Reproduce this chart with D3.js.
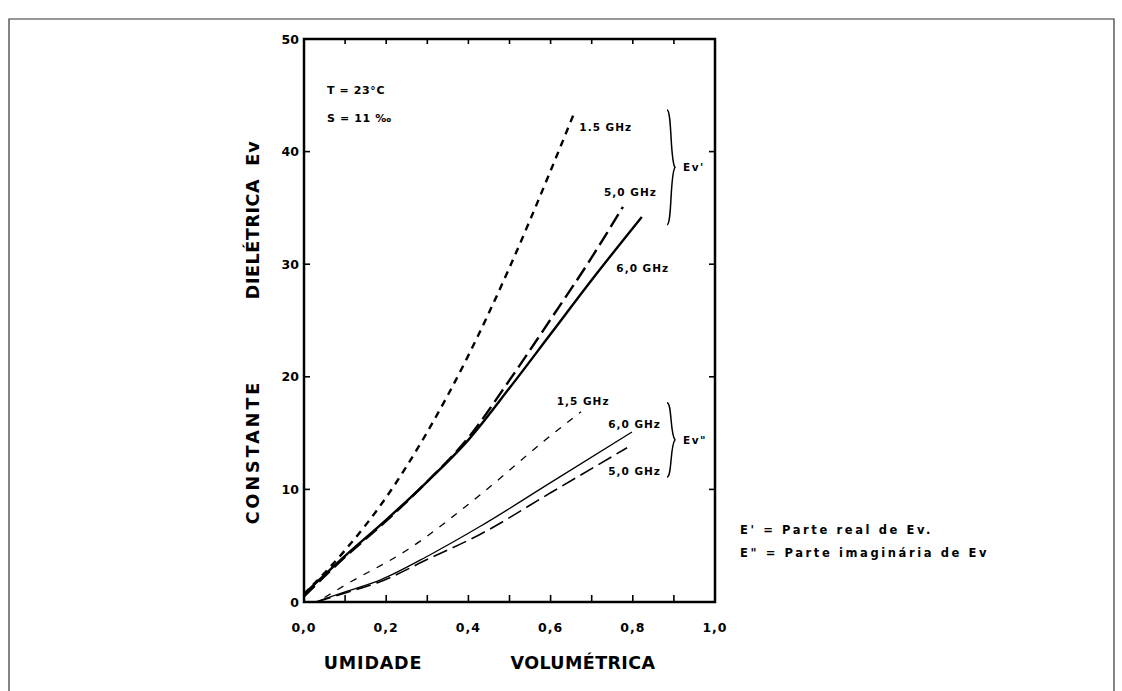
<!DOCTYPE html>
<meta charset="utf-8">
<style>
body { margin: 0; background: #fff; }
svg text { font-family: "DejaVu Sans", sans-serif; font-weight: bold; fill: #000; }
.frame { fill: none; stroke: #000; stroke-width: 2.5px; }
.tick { stroke: #000; stroke-width: 1.6px; }
.curve { fill: none; stroke: #000; }
.page { fill: none; stroke: #333; stroke-width: 1.2px; }
</style>
<body>
<div id="chart"></div>
<script src="https://d3js.org/d3.v7.min.js"></script>
<script>

// values: [volumetric moisture, dielectric constant]
var evReal15 = [[0, 0.7], [0.1, 4.6], [0.2, 9.3], [0.3, 15.1], [0.4, 21.9], [0.5, 29.7], [0.6, 38.3], [0.657, 43.4]];
var evReal50 = [[0, 0.5], [0.1, 4.0], [0.2, 7.2], [0.3, 10.7], [0.4, 14.6], [0.5, 19.7], [0.6, 25.1], [0.7, 30.6], [0.776, 35.1]];
var evReal60 = [[0, 0.7], [0.1, 4.1], [0.2, 7.3], [0.3, 10.7], [0.4, 14.4], [0.5, 19.0], [0.6, 23.8], [0.7, 28.6], [0.822, 34.2]];
var evImag15 = [[0.05, 0.4], [0.1, 1.5], [0.25, 4.6], [0.428, 9.5], [0.584, 14.3], [0.674, 16.9]];
var evImag50 = [[0.03, 0], [0.1, 0.8], [0.185, 1.8], [0.307, 3.9], [0.428, 6.0], [0.6, 9.7], [0.786, 13.7]];
var evImag60 = [[0.027, 0], [0.1, 0.9], [0.185, 1.95], [0.307, 4.2], [0.428, 6.7], [0.6, 10.6], [0.798, 15.1]];

var xTicks = [0, 0.1, 0.2, 0.3, 0.4, 0.5, 0.6, 0.7, 0.8, 0.9, 1.0];
var xLabels = ["0,0", "0,2", "0,4", "0,6", "0,8", "1,0"];
var yTicks = [0, 10, 20, 30, 40, 50];

var curveLabels = [
    {text: "1.5 GHz", x: 0.67, y: 42.2},
    {text: "5,0 GHz", x: 0.73, y: 36.4},
    {text: "6,0 GHz", x: 0.76, y: 29.6},
    {text: "1,5 GHz", x: 0.615, y: 17.8},
    {text: "6,0 GHz", x: 0.74, y: 15.8},
    {text: "5,0 GHz", x: 0.74, y: 11.6}
];

var width = 1122, height = 691;
var plot = {left: 304, right: 715, top: 39, bottom: 602};

var svg = d3.select("#chart").append("svg")
    .attr("width", width)
    .attr("height", height);

// page border (scanned sheet)
svg.append("path")
    .attr("class", "page")
    .attr("d", "M9," + height + "V19H1114V" + height);

var x = d3.scaleLinear()
    .domain([0, 1])
    .range([plot.left, plot.right]);

var y = d3.scaleLinear()
    .domain([0, 50])
    .range([plot.bottom, plot.top]);

svg.append("rect")
    .attr("class", "frame")
    .attr("x", plot.left)
    .attr("y", plot.top)
    .attr("width", plot.right - plot.left)
    .attr("height", plot.bottom - plot.top);

// inward ticks on all four sides
var xt = xTicks.slice(1, -1);
svg.selectAll(".xtick-b").data(xt).enter().append("line")
    .attr("class", "tick")
    .attr("x1", d => x(d)).attr("x2", d => x(d))
    .attr("y1", plot.bottom).attr("y2", plot.bottom - 7);
svg.selectAll(".xtick-t").data(xt).enter().append("line")
    .attr("class", "tick")
    .attr("x1", d => x(d)).attr("x2", d => x(d))
    .attr("y1", plot.top).attr("y2", plot.top + 5);

var yt = yTicks.slice(1, -1);
svg.selectAll(".ytick-l").data(yt).enter().append("line")
    .attr("class", "tick")
    .attr("x1", plot.left).attr("x2", plot.left + 6)
    .attr("y1", d => y(d)).attr("y2", d => y(d));
svg.selectAll(".ytick-r").data(yt).enter().append("line")
    .attr("class", "tick")
    .attr("x1", plot.right).attr("x2", plot.right - 6)
    .attr("y1", d => y(d)).attr("y2", d => y(d));

svg.selectAll(".ylabel").data(yTicks).enter().append("text")
    .attr("x", plot.left - 5)
    .attr("y", d => y(d))
    .attr("dy", "0.36em")
    .attr("text-anchor", "end")
    .attr("font-size", 12.5)
    .text(d => d);

svg.selectAll(".xlabel").data(xLabels).enter().append("text")
    .attr("x", (d, i) => x(i * 0.2))
    .attr("y", 632)
    .attr("text-anchor", "middle")
    .attr("font-size", 12.5)
    .attr("letter-spacing", 1)
    .text(d => d);

// axis titles
svg.append("text")
    .attr("x", 373).attr("y", 669)
    .attr("text-anchor", "middle")
    .attr("font-size", 17.5)
    .attr("letter-spacing", 0.8)
    .text("UMIDADE");
svg.append("text")
    .attr("x", 583).attr("y", 669)
    .attr("text-anchor", "middle")
    .attr("font-size", 17.5)
    .attr("letter-spacing", 0.4)
    .text("VOLUMÉTRICA");

var yTitle = [
    {text: "CONSTANTE", pos: 452, sp: 3},
    {text: "DIELÉTRICA", pos: 239, sp: 0.6},
    {text: "Ev", pos: 153, sp: 1}
];
svg.selectAll(".ytitle").data(yTitle).enter().append("text")
    .attr("transform", d => "translate(259," + d.pos + ") rotate(-90)")
    .attr("text-anchor", "middle")
    .attr("font-size", 17.5)
    .attr("letter-spacing", d => d.sp)
    .text(d => d.text);

// curves
var line = d3.line()
    .curve(d3.curveMonotoneX)
    .x(d => x(d[0]))
    .y(d => y(d[1]));

var series = [
    {data: evReal15, w: 2.4, dash: "7,6"},
    {data: evReal50, w: 2.4, dash: "15,6"},
    {data: evReal60, w: 2.4, dash: null},
    {data: evImag15, w: 1.3, dash: "7,8"},
    {data: evImag50, w: 1.6, dash: "15,6"},
    {data: evImag60, w: 1.3, dash: null}
];

svg.selectAll(".curve").data(series).enter().append("path")
    .attr("class", "curve")
    .attr("d", d => line(d.data))
    .attr("stroke-width", d => d.w)
    .attr("stroke-dasharray", d => d.dash);

svg.selectAll(".clabel").data(curveLabels).enter().append("text")
    .attr("x", d => x(d.x))
    .attr("y", d => y(d.y))
    .attr("dy", "0.36em")
    .attr("font-size", 10.5)
    .attr("letter-spacing", 1)
    .text(d => d.text);

// braces grouping real / imaginary parts
function brace(xb, y0, y1) {
    var m = (y0 + y1) / 2;
    return "M" + xb + "," + y0 +
        "C" + (xb + 5) + "," + y0 + " " + (xb + 3) + "," + (m - 6) + " " + (xb + 8) + "," + m +
        "C" + (xb + 3) + "," + (m + 6) + " " + (xb + 5) + "," + y1 + " " + xb + "," + y1;
}
var braces = [
    {lo: 33.5, hi: 43.7, label: "Ev'"},
    {lo: 11.1, hi: 17.7, label: "Ev\""}
];
svg.selectAll(".brace").data(braces).enter().append("path")
    .attr("d", d => brace(667, y(d.hi), y(d.lo)))
    .attr("fill", "none")
    .attr("stroke", "#000")
    .attr("stroke-width", 1.5);
svg.selectAll(".blabel").data(braces).enter().append("text")
    .attr("x", 683)
    .attr("y", d => y((d.hi + d.lo) / 2))
    .attr("dy", "0.36em")
    .attr("font-size", 10.5)
    .attr("letter-spacing", 1.5)
    .text(d => d.label);

// conditions
svg.append("text").attr("x", 327).attr("y", 94).attr("font-size", 11).attr("letter-spacing", 0.6).text("T = 23°C");
svg.append("text").attr("x", 327).attr("y", 122).attr("font-size", 11).attr("letter-spacing", 0.6).text("S = 11 ‰");

// legend
var legendText = ["E' = Parte real de Ev.", "E\" = Parte imaginária de Ev"];
svg.selectAll(".legend").data(legendText).enter().append("text")
    .attr("x", 740)
    .attr("y", (d, i) => 534 + i * 23)
    .attr("font-size", 11.5)
    .attr("letter-spacing", 2.6)
    .text(d => d);

</script>
